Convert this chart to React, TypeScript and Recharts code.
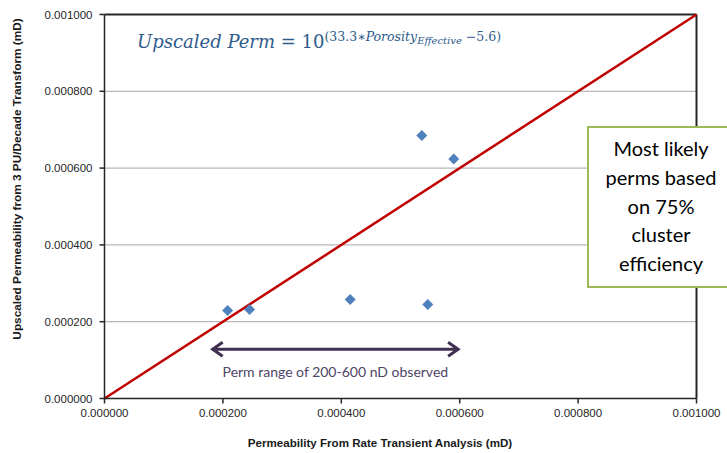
import {
  ScatterChart,
  Scatter,
  XAxis,
  YAxis,
  CartesianGrid,
  ReferenceLine,
} from "recharts";

// Rate transient analysis perms (mD) vs. upscaled perms from the porosity transform (mD)
const RTA_PERM = [0.000208, 0.000245, 0.000415, 0.000546, 0.000536, 0.00059];
const UPSCALED_PERM = [0.000229, 0.000232, 0.000258, 0.000245, 0.000685, 0.000624];

const AXIS_TICKS = [0, 0.0002, 0.0004, 0.0006, 0.0008, 0.001];

// observed perm range band (200-600 nD), drawn as a double arrow
const RANGE_FROM = 0.000181;
const RANGE_TO = 0.000599;
const RANGE_LEVEL = 0.000128;

const points = RTA_PERM.map((x, i) => ({ x, y: UPSCALED_PERM[i] }));

const W = 727;
const H = 453;
const AXIS_COLOR = "#262626";
const TICK_FONT = "'Liberation Sans', Arial, sans-serif";
const SANS = "Lato, 'Open Sans', sans-serif";

function Diamond(props: { cx?: number; cy?: number }) {
  const { cx = 0, cy = 0 } = props;
  const r = 5.5;
  return (
    <polygon
      points={`${cx},${cy - r} ${cx + r},${cy} ${cx},${cy + r} ${cx - r},${cy}`}
      fill="#4f81bd"
    />
  );
}

function RangeArrow(props: { x1?: number; y1?: number; x2?: number; y2?: number }) {
  const { x1 = 0, y1 = 0, x2 = 0 } = props;
  const y = y1;
  const c = "#403151";
  return (
    <g>
      <line x1={x1 + 1} y1={y} x2={x2 - 1} y2={y} stroke={c} strokeWidth={3} />
      <polyline
        points={`${x1 + 11},${y - 7} ${x1 + 1},${y} ${x1 + 11},${y + 7}`}
        fill="none"
        stroke={c}
        strokeWidth={3}
        strokeLinejoin="miter"
      />
      <polyline
        points={`${x2 - 11},${y - 7} ${x2 - 1},${y} ${x2 - 11},${y + 7}`}
        fill="none"
        stroke={c}
        strokeWidth={3}
        strokeLinejoin="miter"
      />
      <text
        x={(x1 + x2) / 2}
        y={y + 28}
        textAnchor="middle"
        fontFamily={SANS}
        fontSize={14}
        fill="#4f4466"
      >
        Perm range of 200-600 nD observed
      </text>
    </g>
  );
}

function diagonal(props: { x1?: number; y1?: number; x2?: number; y2?: number }) {
  return (
    <line
      x1={props.x1}
      y1={props.y1}
      x2={props.x2}
      y2={props.y2}
      stroke="#c00000"
      strokeWidth={2.5}
    />
  );
}

const fmt = (v: number) => v.toFixed(6);

export default function App() {
  return (
    <div
      style={{
        position: "fixed",
        left: 0,
        top: 0,
        width: W,
        height: H,
        overflow: "hidden",
        background: "#fff",
      }}
    >
      <ScatterChart
        width={W}
        height={H}
        margin={{ top: 14.5, right: 30.5, bottom: 14.5, left: 4.5 }}
      >
        <CartesianGrid horizontal vertical={false} stroke="#a6a6a6" strokeWidth={1} />
        <XAxis
          type="number"
          dataKey="x"
          domain={[0, 0.001]}
          ticks={AXIS_TICKS}
          tickFormatter={fmt}
          height={40}
          tickSize={5}
          tickMargin={5}
          stroke={AXIS_COLOR}
          strokeWidth={1.5}
          tick={{ fontSize: 11.5, fontFamily: TICK_FONT, fill: "#262626" }}
          label={{
            value: "Permeability From Rate Transient Analysis (mD)",
            content: () => (
              <text
                x={380}
                y={447}
                textAnchor="middle"
                fontFamily={TICK_FONT}
                fontWeight="bold"
                fontSize={11.6}
                fill="#1a1a1a"
              >
                Permeability From Rate Transient Analysis (mD)
              </text>
            ),
          }}
        />
        <YAxis
          type="number"
          dataKey="y"
          domain={[0, 0.001]}
          ticks={AXIS_TICKS}
          tickFormatter={fmt}
          width={100}
          tickSize={5}
          tickMargin={7}
          stroke={AXIS_COLOR}
          strokeWidth={1.5}
          tick={{ fontSize: 11.5, fontFamily: TICK_FONT, fill: "#262626" }}
          label={{
            value: "Upscaled Permeability from 3 PU/Decade Transform (mD)",
            content: () => (
              <text
                x={21}
                y={179}
                transform="rotate(-90 21 179)"
                textAnchor="middle"
                fontFamily={TICK_FONT}
                fontWeight="bold"
                fontSize={11.8}
                fill="#1a1a1a"
              >
                Upscaled Permeability from 3 PU/Decade Transform (mD)
              </text>
            ),
          }}
        />
        {/* plot-area frame: top and right edges */}
        <ReferenceLine y={0.001} stroke={AXIS_COLOR} strokeWidth={2} ifOverflow="visible" />
        <ReferenceLine x={0.001} stroke={AXIS_COLOR} strokeWidth={2} ifOverflow="visible" />
        <ReferenceLine
          segment={[
            { x: 0, y: 0 },
            { x: 0.001, y: 0.001 },
          ]}
          ifOverflow="visible"
          shape={diagonal}
        />
        <ReferenceLine
          segment={[
            { x: RANGE_FROM, y: RANGE_LEVEL },
            { x: RANGE_TO, y: RANGE_LEVEL },
          ]}
          ifOverflow="visible"
          shape={RangeArrow}
        />
        <Scatter data={points} shape={Diamond} isAnimationActive={false} />
      </ScatterChart>

      {/* transform equation */}
      <div
        style={{
          position: "absolute",
          left: 137,
          top: 26,
          fontFamily: "'DejaVu Serif', serif",
          fontSize: 18,
          color: "#2e5b8c",
          whiteSpace: "nowrap",
          lineHeight: "22px",
        }}
      >
        <i>Upscaled Perm</i> = 10
        <sup style={{ fontSize: 12.5, verticalAlign: "7px" }}>
          (33.3∗<i>Porosity</i>
          <sub style={{ fontSize: 10, verticalAlign: "-3px" }}>
            <i>Effective</i>
          </sub>{" "}
          −5.6)
        </sup>
      </div>

      {/* callout box */}
      <div
        style={{
          position: "absolute",
          left: 587,
          top: 126,
          width: 144,
          height: 152,
          border: "2px solid #9bbb59",
          background: "#fff",
          fontFamily: SANS,
          fontSize: 20,
          lineHeight: "28.75px",
          textAlign: "center",
          color: "#000",
          paddingTop: 6,
          boxSizing: "content-box",
        }}
      >
        Most likely
        <br />
        perms based
        <br />
        on 75%
        <br />
        cluster
        <br />
        efficiency
      </div>
    </div>
  );
}
